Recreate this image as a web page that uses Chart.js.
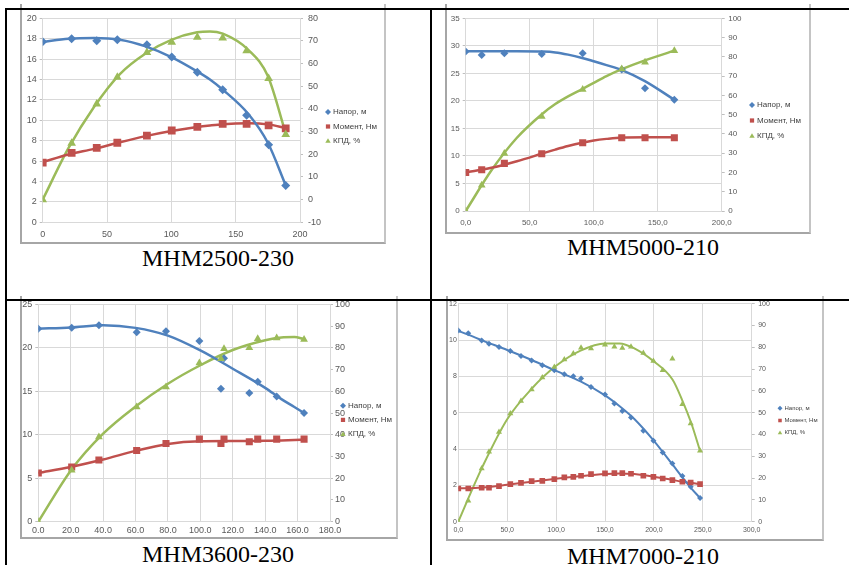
<!DOCTYPE html>
<html><head><meta charset="utf-8">
<script src="https://cdn.jsdelivr.net/npm/chart.js@4/dist/chart.umd.min.js"></script>
<style>
body{margin:0;width:849px;height:565px;background:#fff;position:relative;overflow:hidden;font-family:"Liberation Sans",Arial,sans-serif}
.line{position:absolute;background:#000;z-index:5}
.frame{position:absolute;box-sizing:border-box;border-left:2px solid #a6a6a6;border-bottom:2px solid #a6a6a6;border-right:2px solid #c4c4c4;background:#fff}
.frame canvas{position:absolute;left:0;top:0}
.title{position:absolute;font-family:"Liberation Serif","Times New Roman",serif;font-size:24px;color:#000;text-align:center;width:300px;line-height:1;white-space:nowrap}
</style></head>
<body>
<div class="line" style="left:5px;top:8px;width:844px;height:2px"></div>
<div class="line" style="left:5px;top:8px;width:2px;height:557px"></div>
<div class="line" style="left:430px;top:8px;width:2px;height:557px"></div>
<div class="line" style="left:5px;top:299px;width:844px;height:2px"></div>

<div class="frame" style="left:20px;top:4px;width:366px;height:240px"><canvas id="c1" width="362" height="238"></canvas></div>
<div class="frame" style="left:445px;top:4px;width:366px;height:230px"><canvas id="c2" width="362" height="228"></canvas></div>
<div class="frame" style="left:20px;top:296px;width:378px;height:243px"><canvas id="c3" width="374" height="241"></canvas></div>
<div class="frame" style="left:446px;top:296px;width:378px;height:245px"><canvas id="c4" width="374" height="243"></canvas></div>

<div class="title" style="left:68px;top:246px">МНМ2500-230</div>
<div class="title" style="left:493px;top:235px">МНМ5000-210</div>
<div class="title" style="left:68px;top:542px">МНМ3600-230</div>
<div class="title" style="left:493px;top:544px">МНМ7000-210</div>

<script>
// ---------- names ----------
const seriesNames = ['Напор, м', 'Момент, Нм', 'КПД, %'];

// ---------- Chart 1: МНМ2500-230 ----------
const c1Flow   = [0, 22.5, 42, 58, 81, 100.3, 120.2, 139.9, 158.5, 175.6, 188.9];
const c1Head   = [17.7, 18.0, 17.8, 17.9, 17.4, 16.2, 14.7, 13.0, 10.5, 7.6, 3.6];
const c1Moment = [5.85, 6.8, 7.3, 7.8, 8.5, 9.0, 9.35, 9.65, 9.65, 9.5, 9.2];
const c1Eff    = [0, 24.9, 42.2, 54, 64.9, 69.4, 71.6, 71.3, 65.7, 53.4, 28.7];
const c1FitFlow   = [0, 20, 40, 60, 80, 100, 120, 130, 140, 160, 175, 189];
const c1HeadFit   = [17.7, 18.0, 18.07, 17.9, 17.25, 16.2, 14.8, 14.0, 13.0, 10.6, 7.8, 3.6];
const c1MomentFit = [5.9, 6.65, 7.2, 7.85, 8.45, 8.95, 9.35, 9.5, 9.62, 9.7, 9.6, 9.25];
const c1EffFit    = [0, 22.7, 41, 55.4, 64.5, 70.5, 73.8, 74.2, 73.2, 66, 54.5, 29];
const c1XTicks = [0, 200, 50], c1YTicks = [0, 20, 2], c1Y2Ticks = [-10, 80, 10];

// ---------- Chart 2: МНМ5000-210 ----------
const c2Flow   = [0, 12.5, 30.2, 59.4, 91.4, 121.9, 140.1, 163.0];
const c2Head   = [28.95, 28.35, 28.65, 28.5, 28.65, 25.7, 22.3, 20.2];
const c2Moment = [7.0, 7.5, 8.65, 10.4, 12.4, 13.3, 13.3, 13.3];
const c2Eff    = [0, 13.3, 29.9, 49.0, 63.1, 73.7, 77.2, 83.2];
const c2FitFlow   = [0, 20, 40, 60, 70, 80, 91, 100, 110, 122, 140, 163];
const c2HeadFit   = [29.0, 29.0, 29.0, 28.95, 28.8, 28.4, 27.8, 27.2, 26.5, 25.6, 23.6, 20.2];
const c2MomentFit = [7.0, 7.85, 9.05, 10.45, 11.15, 11.8, 12.4, 12.8, 13.1, 13.35, 13.4, 13.4];
const c2EffFit    = [0, 21, 38, 50.5, 55.5, 59.5, 63.3, 66.5, 70, 73.6, 78.2, 83.2];
const c2XTicks = [0, 200, 50], c2YTicks = [0, 35, 5], c2Y2Ticks = [0, 100, 10];

// ---------- Chart 3: МНМ3600-230 ----------
const c3Flow   = [0, 20.6, 37.4, 60.7, 78.8, 99.4, 112.7, 114.6, 130.2, 135.4, 147.1, 164];
const c3Head   = [22.2, 22.3, 22.6, 21.8, 21.9, 20.8, 15.3, 18.8, 14.8, 16.1, 14.4, 12.5];
const c3Moment = [5.6, 6.3, 7.1, 8.2, 9.0, 9.5, 9.0, 9.5, 9.2, 9.5, 9.5, 9.5];
const c3Eff    = [0, 23.7, 39.0, 52.8, 62.0, 73.0, 75.0, 79.6, 80.1, 84.2, 84.5, 83.8];
const c3FitFlow   = [0, 20, 40, 60, 80, 100, 120, 140, 150, 158, 164];
const c3HeadFit   = [22.2, 22.35, 22.6, 22.3, 21.4, 19.7, 17.6, 15.4, 14.1, 13.2, 12.5];
const c3MomentFit = [5.6, 6.3, 7.15, 8.15, 8.95, 9.25, 9.28, 9.3, 9.35, 9.4, 9.45];
const c3EffFit    = [0, 23.5, 40.5, 53, 63.5, 72, 79, 83.5, 84.8, 85, 84];
const c3XTicks = [0, 180, 20], c3YTicks = [0, 25, 5], c3Y2Ticks = [0, 100, 10];

// ---------- Chart 4: МНМ7000-210 ----------
const c4Flow   = [0, 10.2, 23.9, 31.4, 41.6, 53.2, 64.1, 75.0, 85.9, 98.2, 108.4, 117.6, 125.5, 135.7, 150.0, 159.6, 167.7, 176.6, 189.2, 199.5, 209.0, 218.9, 229.1, 237.6, 247.2];
const c4Head   = [10.53, 10.38, 9.98, 9.80, 9.62, 9.40, 9.12, 8.88, 8.61, 8.33, 8.11, 8.00, 7.88, 7.42, 7.00, 6.50, 6.10, 5.73, 5.00, 4.45, 3.81, 3.21, 2.51, 1.92, 1.30];
const c4Moment = [1.83, 1.83, 1.87, 1.87, 1.96, 2.07, 2.14, 2.23, 2.25, 2.34, 2.44, 2.47, 2.53, 2.62, 2.66, 2.67, 2.67, 2.64, 2.53, 2.47, 2.38, 2.29, 2.20, 2.16, 2.07];
const c4Eff    = [0, 9.6, 24.4, 32.1, 41.2, 49.6, 55.4, 60.6, 66.1, 71.0, 74.4, 77.1, 79.8, 79.4, 81.2, 80.2, 79.7, 80.2, 77.4, 73.7, 69.5, 74.8, 53.9, 45.0, 32.5];
const c4FitFlow   = [0, 10, 25, 50, 75, 100, 125, 150, 165, 180, 200, 219, 229, 238, 247.2];
const c4HeadFit   = [10.5, 10.3, 9.97, 9.45, 8.9, 8.3, 7.72, 6.95, 6.35, 5.65, 4.45, 3.15, 2.45, 1.85, 1.3];
const c4MomentFit = [1.84, 1.84, 1.88, 2.03, 2.2, 2.36, 2.51, 2.63, 2.66, 2.62, 2.48, 2.3, 2.2, 2.14, 2.07];
const c4EffFit    = [0, 10.5, 25.5, 47, 61, 71.5, 78.5, 81.8, 81.8, 79.5, 73.5, 65.2, 55.7, 45.5, 32.5];
const c4XTicks = [0, 300, 50], c4YTicks = [0, 12, 2], c4Y2Ticks = [0, 100, 10];

// ---------- styling ----------
const COLORS = ['#4f81bd', '#c0504d', '#9bbb59'];
const STYLES = ['rectRot', 'rect', 'triangle'];
const AXES = ['y', 'y', 'y2'];
const GC = '#d9d9d9', TC = '#595959';
const FONT = '"Liberation Sans", Arial, sans-serif';

function pts(xs, ys) { return xs.map((x, i) => ({x: x, y: ys[i]})); }

function drawMarker(ctx, style, x, y, r) {
  ctx.beginPath();
  if (style === 'rect') { const s = r * Math.SQRT1_2; ctx.rect(x - s, y - s, 2 * s, 2 * s); }
  else if (style === 'rectRot') { ctx.moveTo(x, y - r); ctx.lineTo(x + r, y); ctx.lineTo(x, y + r); ctx.lineTo(x - r, y); ctx.closePath(); }
  else { const h = r * 1.5; ctx.moveTo(x, y - h * 0.6); ctx.lineTo(x + r * 0.9, y + h * 0.4); ctx.lineTo(x - r * 0.9, y + h * 0.4); ctx.closePath(); }
  ctx.fill();
}

const sideLegend = {
  id: 'sideLegend',
  afterDraw(chart, args, o) {
    const ctx = chart.ctx;
    ctx.save();
    ctx.font = o.size + 'px ' + FONT;
    ctx.textBaseline = 'middle';
    ctx.textAlign = 'left';
    seriesNames.forEach((name, i) => {
      const y = o.y + i * o.step;
      ctx.fillStyle = COLORS[i];
      drawMarker(ctx, STYLES[i], o.x, y, o.r);
      ctx.fillStyle = '#404040';
      ctx.fillText(name, o.x + o.r + 2, y);
    });
    ctx.restore();
  }
};

function build(id, o) {
  const datasets = [];
  o.fits.forEach((f, i) => datasets.push({
    label: seriesNames[i] + ' (тренд)', data: pts(o.fitX, f), yAxisID: AXES[i],
    showLine: true, pointRadius: 0, borderColor: COLORS[i], borderWidth: o.lw,
    cubicInterpolationMode: 'monotone', fill: false, order: 4
  }));
  o.vals.forEach((v, i) => datasets.push({
    label: seriesNames[i], data: pts(o.x, v), yAxisID: AXES[i], showLine: false,
    pointStyle: STYLES[i], pointRadius: o.r[i], backgroundColor: COLORS[i],
    borderColor: COLORS[i], borderWidth: 0, order: 3 - i
  }));
  const tickFont = {size: o.fs, family: FONT};
  new Chart(document.getElementById(id), {
    type: 'scatter',
    data: {datasets: datasets},
    plugins: [sideLegend],
    options: {
      responsive: false, animation: false, events: [],
      layout: {padding: {top: o.top, left: 0, right: 0, bottom: 0}},
      plugins: {legend: {display: false}, tooltip: {enabled: false},
        sideLegend: {x: o.lx, y: o.ly, step: o.lstep, size: o.lfs, r: o.lr}},
      scales: {
        x: {type: 'linear', min: o.xt[0], max: o.xt[1],
          ticks: {stepSize: o.xt[2], color: TC, font: tickFont, padding: o.xPad, maxRotation: 0, autoSkip: false, callback: o.xFmt},
          grid: {color: GC, drawTicks: false}, border: {color: GC},
          afterFit: s => { s.height = o.xH; }},
        y: {position: 'left', min: o.yt[0], max: o.yt[1],
          ticks: {stepSize: o.yt[2], color: TC, font: tickFont, padding: o.yPad},
          grid: {color: GC, tickLength: o.yTL, tickColor: '#bfbfbf'}, border: {color: GC},
          afterFit: s => { s.width = o.lW; }},
        y2: {position: 'right', min: o.y2t[0], max: o.y2t[1],
          ticks: {stepSize: o.y2t[2], color: TC, font: tickFont, padding: o.y2Pad},
          grid: {drawOnChartArea: false, tickLength: 3, tickColor: '#bfbfbf'}, border: {color: GC},
          afterFit: s => { s.width = o.rW; }}
      }
    }
  });
}

const intFmt = v => String(v);
const commaFmt = v => v.toFixed(1).replace('.', ',');
const dotFmt = v => v.toFixed(1);

build('c1', {x: c1Flow, vals: [c1Head, c1Moment, c1Eff], fitX: c1FitFlow, fits: [c1HeadFit, c1MomentFit, c1EffFit],
  xt: c1XTicks, yt: c1YTicks, y2t: c1Y2Ticks, xFmt: intFmt, fs: 9, lw: 2.5, r: [4.5, 5.5, 5],
  top: 14.3, lW: 20.7, rW: 84, xH: 19.7, xPad: 7, yPad: 3, yTL: 3, y2Pad: 5,
  lx: 306, ly: 108, lstep: 14.5, lfs: 8, lr: 3});
build('c2', {x: c2Flow, vals: [c2Head, c2Moment, c2Eff], fitX: c2FitFlow, fits: [c2HeadFit, c2MomentFit, c2EffFit],
  xt: c2XTicks, yt: c2YTicks, y2t: c2Y2Ticks, xFmt: commaFmt, fs: 8, lw: 2.5, r: [4, 5, 4.5],
  top: 14.3, lW: 18.7, rW: 87.3, xH: 21, xPad: 7, yPad: 3, yTL: 3, y2Pad: 3.5,
  lx: 305, ly: 101, lstep: 15.5, lfs: 8, lr: 3});
build('c3', {x: c3Flow, vals: [c3Head, c3Moment, c3Eff], fitX: c3FitFlow, fits: [c3HeadFit, c3MomentFit, c3EffFit],
  xt: c3XTicks, yt: c3YTicks, y2t: c3Y2Ticks, xFmt: dotFmt, fs: 9, lw: 2.5, r: [4, 5, 4.5],
  top: 7.3, lW: 16.3, rW: 66, xH: 15.3, xPad: 3, yPad: 3, yTL: 3, y2Pad: 2,
  lx: 321, ly: 109.7, lstep: 14.2, lfs: 8, lr: 3});
build('c4', {x: c4Flow, vals: [c4Head, c4Moment, c4Eff], fitX: c4FitFlow, fits: [c4HeadFit, c4MomentFit, c4EffFit],
  xt: c4XTicks, yt: c4YTicks, y2t: c4Y2Ticks, xFmt: commaFmt, fs: 7, lw: 2, r: [3, 4, 3.5],
  top: 7.3, lW: 10.3, rW: 70.3, xH: 17.3, xPad: 4, yPad: 1.5, yTL: 0, y2Pad: 3.5,
  lx: 332, ly: 112.3, lstep: 12.2, lfs: 6, lr: 2.5});
</script>
</body></html>
